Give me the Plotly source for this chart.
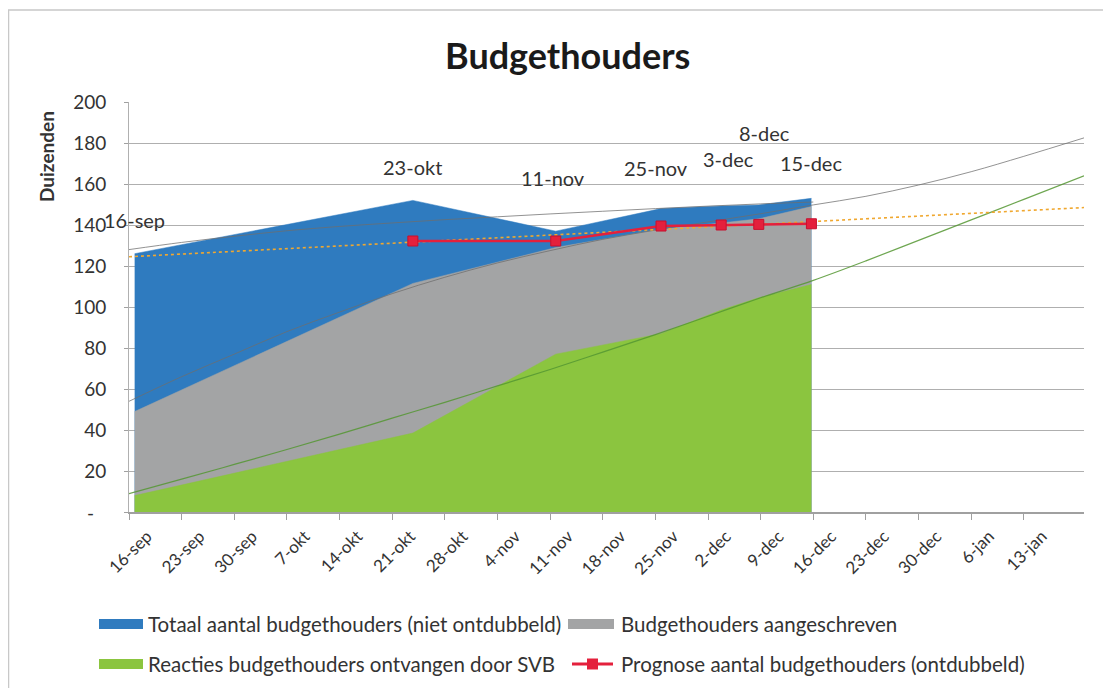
import plotly.graph_objects as go
import pandas as pd

# ---------------- data (thousands) ----------------
dates = ["2014-09-16", "2014-10-23", "2014-11-11", "2014-11-25",
         "2014-12-03", "2014-12-08", "2014-12-15"]
point_labels = ["16-sep", "23-okt", "11-nov", "25-nov", "3-dec", "8-dec", "15-dec"]
totaal = [126, 152, 137, 148, 149.3, 149.8, 153]
aangeschreven = [49, 111.5, 129, 138, 141, 143, 149]
reacties = [8, 38.5, 77, 87, 98.5, 104.5, 111]
prognose = [None, 132.2, 132.2, 139.5, 140, 140.3, 140.6]

# trendlines (values read at weekly dates)
trend_dates = ["2014-09-16", "2014-09-23", "2014-09-30", "2014-10-07", "2014-10-14",
               "2014-10-21", "2014-10-28", "2014-11-04", "2014-11-11", "2014-11-18",
               "2014-11-25", "2014-12-02", "2014-12-09", "2014-12-16", "2014-12-23",
               "2014-12-30", "2015-01-06", "2015-01-13", "2015-01-21"]
trend_totaal = [128, 131.5, 134.5, 137.2, 139.3, 141, 142.6, 144, 145.4, 146.7,
                148, 149.2, 150.3, 151.2]
trend_aangeschreven = [54, 66, 77, 88, 97.5, 106.5, 114.5, 121.5, 127.5, 133,
                       137.5, 141.5, 145.5, 149.8, 154, 159.5, 166, 173.5, 182.5]
trend_reacties = [9, 16, 23.2, 30.5, 38, 45.8, 53.5, 61.5, 69.5, 78,
                  86.5, 95.5, 104.5, 113, 122.5, 132.5, 142.5, 152.5, 164]
trend_prognose_dates = ["2014-09-16", "2015-01-21"]
trend_prognose = [124.5, 148.5]

tick_dates = trend_dates[:-1]
tick_labels = ["16-sep", "23-sep", "30-sep", "7-okt", "14-okt", "21-okt", "28-okt",
               "4-nov", "11-nov", "18-nov", "25-nov", "2-dec", "9-dec", "16-dec",
               "23-dec", "30-dec", "6-jan", "13-jan"]
y_ticks = [0, 20, 40, 60, 80, 100, 120, 140, 160, 180, 200]
y_ticktext = ["", "20", "40", "60", "80", "100", "120", "140", "160", "180", "200"]
zero_label = "-"

# ---------------- layout helpers ----------------
# the page body has an 8px margin, so the figure is 8px smaller and all
# positions below are given in screen pixels of the reference.
OFF = 8
W, H = 1111 - OFF, 688 - OFF
L, R, T, B = 129 - OFF, 27, 102 - OFF, 176
PW, PH = W - L - R, H - T - B


def px(x):
    return (x - OFF - L) / PW


def py(y):
    return (H + OFF - B - y) / PH


FONT = "Lato"
TXT = "#333333"
BLUE = "#2F7BBF"
GREY = "#A3A4A5"
GREEN = "#8BC53F"
RED = "#E4203C"
ORANGE = "#F0A830"

xd = pd.to_datetime(dates) + pd.Timedelta(hours=18)
td = pd.to_datetime(trend_dates)

fig = go.Figure()

for vals, col, name in [(totaal, BLUE, "Totaal aantal budgethouders (niet ontdubbeld)"),
                        (aangeschreven, GREY, "Budgethouders aangeschreven"),
                        (reacties, GREEN, "Reacties budgethouders ontvangen door SVB")]:
    fig.add_trace(go.Scatter(x=xd, y=vals, mode="lines", fill="tozeroy",
                             fillcolor=col, line=dict(color=col, width=0.5),
                             name=name, showlegend=False, hoverinfo="skip"))

# trendlines
fig.add_trace(go.Scatter(x=td[:len(trend_totaal)], y=trend_totaal, mode="lines",
                         line=dict(color="rgba(110,110,110,0.75)", width=1, shape="spline"),
                         showlegend=False, hoverinfo="skip"))
fig.add_trace(go.Scatter(x=td, y=trend_aangeschreven, mode="lines",
                         line=dict(color="rgba(110,110,110,0.75)", width=1, shape="spline"),
                         showlegend=False, hoverinfo="skip"))
fig.add_trace(go.Scatter(x=td, y=trend_reacties, mode="lines",
                         line=dict(color="rgba(85,150,50,0.85)", width=1.2, shape="spline"),
                         showlegend=False, hoverinfo="skip"))
fig.add_trace(go.Scatter(x=pd.to_datetime(trend_prognose_dates), y=trend_prognose,
                         mode="lines", line=dict(color=ORANGE, width=1.6, dash="dot"),
                         showlegend=False, hoverinfo="skip"))

# prognose line
fig.add_trace(go.Scatter(x=xd, y=prognose, mode="lines+markers",
                         line=dict(color=RED, width=2.5),
                         marker=dict(symbol="square", size=10, color=RED,
                                     line=dict(color="#C8102E", width=1)),
                         name="Prognose aantal budgethouders (ontdubbeld)",
                         showlegend=False, hoverinfo="skip"))

# data labels
label_y = [142.4, 168.3, 162.9, 167.8, 172.2, 184.9, 170.2]
label_dx = [0, 0, -3, -5, 7, 6, 0]
for d, lab, yv, dx in zip(xd, point_labels, label_y, label_dx):
    fig.add_annotation(x=d, y=yv, text=lab, showarrow=False, xshift=dx,
                       xanchor="center", yanchor="middle",
                       font=dict(family=FONT, size=20, color=TXT))

# zero tick label shown as a dash, as in the accounting number format
fig.add_annotation(xref="paper", yref="y", x=px(90), y=0, text=zero_label,
                   xanchor="center", yanchor="middle", showarrow=False,
                   font=dict(family=FONT, size=19, color=TXT))

# title and axis title
fig.add_annotation(xref="paper", yref="paper", x=px(567), y=py(55), text="<b>Budgethouders</b>",
                   xanchor="center", yanchor="middle", showarrow=False,
                   font=dict(family=FONT, size=36, color="#1a1a1a"))
fig.add_annotation(xref="paper", yref="paper", x=px(46), y=py(157), text="<b>Duizenden</b>",
                   textangle=-90, xanchor="center", yanchor="middle", showarrow=False,
                   font=dict(family=FONT, size=19, color=TXT))

# manual legend
shapes = []
legend_items = [
    (99, 143, 624, BLUE, "Totaal aantal budgethouders (niet ontdubbeld)", 146),
    (568, 614, 624, GREY, "Budgethouders aangeschreven", 619),
    (99, 143, 664, GREEN, "Reacties budgethouders ontvangen door SVB", 146),
]
for x0, x1, yc, col, txt, tx in legend_items:
    shapes.append(dict(type="rect", xref="paper", yref="paper", x0=px(x0), x1=px(x1),
                       y0=py(yc + 5), y1=py(yc - 5), fillcolor=col, line=dict(width=0)))
    fig.add_annotation(xref="paper", yref="paper", x=px(tx), y=py(yc), text=txt,
                       xanchor="left", yanchor="middle", showarrow=False,
                       font=dict(family=FONT, size=20.5, color=TXT))
shapes.append(dict(type="line", xref="paper", yref="paper", x0=px(572), x1=px(613),
                   y0=py(664), y1=py(664), line=dict(color=RED, width=3)))
shapes.append(dict(type="rect", xref="paper", yref="paper", x0=px(587), x1=px(598),
                   y0=py(669.5), y1=py(658.5), fillcolor=RED, line=dict(width=0)))
fig.add_annotation(xref="paper", yref="paper", x=px(619), y=py(664),
                   text="Prognose aantal budgethouders (ontdubbeld)", xanchor="left",
                   yanchor="middle", showarrow=False,
                   font=dict(family=FONT, size=20.5, color=TXT))

# outer frame
shapes.append(dict(type="rect", xref="paper", yref="paper", x0=px(8.5), x1=px(1130),
                   y0=py(720), y1=py(10), line=dict(color="#C8C8C8", width=1.5),
                   layer="below"))

fig.update_layout(
    width=W, height=H,
    margin=dict(l=L, r=R, t=T, b=B),
    paper_bgcolor="white", plot_bgcolor="white",
    showlegend=False, shapes=shapes,
    font=dict(family=FONT, color=TXT),
)
fig.update_xaxes(type="date", range=["2014-09-16", "2015-01-21"],
                 tickvals=pd.to_datetime(tick_dates), ticktext=tick_labels,
                 tickangle=-45, tickfont=dict(family=FONT, size=17, color=TXT),
                 ticklabelshift=18,
                 showgrid=False, showline=True, linecolor="#A0A0A0", linewidth=1.5,
                 ticks="outside", ticklen=6, tickcolor="#A0A0A0", zeroline=False)
fig.update_yaxes(range=[0, 200], tickvals=y_ticks, ticktext=y_ticktext,
                 tickfont=dict(family=FONT, size=19, color=TXT),
                 showgrid=True, gridcolor="#AFAFAF", gridwidth=1,
                 showline=True, linecolor="#B0B0B0", linewidth=1,
                 ticks="outside", ticklen=4, tickcolor="#A0A0A0",
                 ticklabelstandoff=14, zeroline=False)

fig.write_html("out.html")
